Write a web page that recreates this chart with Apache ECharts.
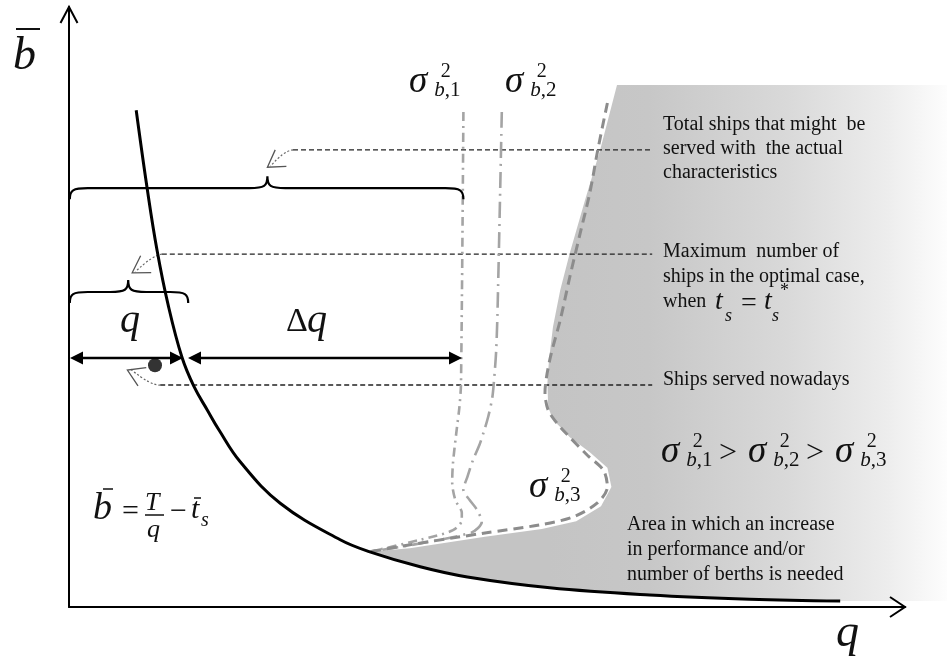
<!DOCTYPE html>
<html>
<head>
<meta charset="utf-8">
<script src="https://cdn.jsdelivr.net/npm/echarts@6/dist/echarts.min.js"></script>
<style>
  html, body { margin: 0; padding: 0; background: #fff; }
  #chart { width: 947px; height: 666px; }
</style>
</head>
<body>
<div id="chart"></div>
<script>
// Demand curve b = T/q - t_s (points along the black curve)
const demandQ = [8.4, 9.8, 11.0, 12.4, 14.1, 15.6, 17.3, 18.75, 21.4, 26.4, 33.9, 37.6, 43.9, 49.8, 60.1, 72.6, 85.1, 96.4];
const demandB = [82.8, 69.5, 59.5, 50.3, 41.7, 36.8, 32.8, 29.5, 24.2, 17.3, 11.2, 9.2, 6.7, 5.0, 3.2, 2.0, 1.3, 1.0];

// Capacity limits for the three service-time variances
const sigma1Q = [49.3, 49.0, 48.8, 48.5, 48.0, 47.9, 48.3, 49.1, 49.1, 48.0, 43.9, 37.6];
const sigma1B = [82.5, 37.3, 33.3, 30.0, 24.0, 20.8, 17.8, 15.7, 14.5, 12.8, 11.2, 9.2];
const sigma2Q = [54.1, 53.6, 53.4, 53.1, 52.9, 52.4, 51.8, 51.3, 50.5, 49.8, 49.3, 50.1, 51.0, 51.6, 50.1, 37.6];
const sigma2B = [82.5, 51.2, 42.8, 37.3, 34.8, 31.7, 29.0, 27.0, 24.5, 21.7, 19.5, 17.8, 16.2, 14.2, 12.3, 9.2];
const sigma3Q = [67.3, 66.1, 65.1, 63.9, 62.6, 61.4, 60.1, 59.5, 59.9, 60.9, 62.1, 64.8, 66.8, 67.3, 66.0, 63.0, 58.9, 51.8, 42.3, 37.6];
const sigma3B = [84.0, 76.2, 69.0, 62.3, 55.0, 47.8, 41.2, 35.7, 32.8, 30.8, 29.0, 25.3, 22.8, 20.0, 17.3, 15.0, 13.7, 12.3, 10.3, 9.2];

// Left edge of the area where more performance / berths are needed
const regionEdgeQ = [37.6, 42.6, 52.0, 59.1, 63.4, 66.5, 67.8, 67.3, 65.1, 62.6, 61.4, 60.5, 59.9, 59.8, 60.0, 60.5, 61.4, 62.6, 64.5, 66.4, 68.5];
const regionEdgeB = [9.2, 9.8, 11.7, 13.0, 14.3, 16.8, 20.0, 23.2, 25.8, 28.3, 30.0, 31.2, 33.3, 37.3, 41.2, 46.7, 52.8, 59.0, 67.8, 76.2, 87.0];
const regionRightQ = 109.75;
const regionTopB = 87.0;
const regionBottomB = 1.0;

// Braces: from, to, middle, level
const braceFrom = [0.1, 0.1];
const braceTo = [49.3, 14.9];
const braceMid = [24.8, 7.4];
const braceLevel = [69.8, 52.5];

// Double arrows q and Δq
const spanFrom = [0.125, 14.875];
const spanTo = [14.25, 49.125];
const spanLevel = 41.5;

// Current operating point
const currentQ = [10.75];
const currentB = [40.3];

// Leader lines from the notes to the braces / point
const leaderStartQ = [28.0, 11.6, 11.4];
const leaderLevel = [76.2, 58.8, 37.0];
const leaderTipQ = [24.8, 7.9, 7.3];
const leaderTipB = [73.3, 55.7, 39.5];
const leaderEndQ = 72.9;

const axisMaxQ = 104.5;
const axisMaxB = 100;

const SERIF = '"Liberation Serif", "Times New Roman", serif';
const zip = (a, b) => a.map((v, i) => [v, b[i]]);

function txt(x, y, s, size, opt) {
  opt = opt || {};
  return {
    type: 'text', x: x, y: y, z: 30,
    style: {
      text: s, fill: opt.fill || '#111',
      font: (opt.italic ? 'italic ' : '') + size + 'px ' + SERIF,
      align: opt.align || 'left', verticalAlign: 'middle'
    }
  };
}
function hbar(x1, x2, y, w) {
  return { type: 'line', z: 30, shape: { x1: x1, y1: y, x2: x2, y2: y }, style: { stroke: '#111', lineWidth: w || 1.5 } };
}
// σ with superscript 2 and subscript b,k
function sigma(x, y, k, S) {
  const sub = Math.round(S * 0.56);
  return [
    txt(x, y, 'σ', S, { italic: true }),
    txt(x + 0.86 * S, y - 0.27 * S, '2', Math.round(S * 0.53)),
    txt(x + 0.68 * S, y + 0.24 * S, 'b', sub, { italic: true }),
    txt(x + 0.68 * S + sub * 0.5, y + 0.24 * S, ',' + k, sub)
  ];
}

const texts = [].concat(
  // axis titles
  [txt(13, 57, 'b', 46, { italic: true }), hbar(16, 40, 29, 2),
   txt(836, 634, 'q', 46, { italic: true })],
  // span labels
  [txt(120, 321, 'q', 40, { italic: true }),
   txt(286, 322, 'Δ', 34), txt(307, 321, 'q', 40, { italic: true })],
  // curve labels
  sigma(409, 82, 1, 37),
  sigma(505, 82, 2, 37),
  sigma(529, 487, 3, 37),
  // inequality
  sigma(661, 452, 1, 37), [txt(719, 454, '>', 32)],
  sigma(748, 452, 2, 37), [txt(806, 454, '>', 32)],
  sigma(835, 452, 3, 37),
  // formula of the demand curve
  [txt(93, 509, 'b', 38, { italic: true }), hbar(103, 113, 489, 1.5),
   txt(122, 512, '=', 30),
   txt(145, 503, 'T', 26, { italic: true }), hbar(145, 164, 515, 1.5),
   txt(147, 530, 'q', 26, { italic: true }),
   txt(170, 512, '−', 30),
   txt(191, 510, 't', 30, { italic: true }), hbar(194, 201, 498, 1.5),
   txt(201, 521, 's', 20, { italic: true })],
  // notes
  [txt(663, 125, 'Total ships that might  be', 20),
   txt(663, 149, 'served with  the actual', 20),
   txt(663, 173, 'characteristics', 20),
   txt(663, 252, 'Maximum  number of', 20),
   txt(663, 277, 'ships in the optimal case,', 20),
   txt(663, 302, 'when', 20),
   txt(715, 302, 't', 28, { italic: true }), txt(725, 316, 's', 18, { italic: true }),
   txt(741, 304, '=', 28),
   txt(764, 302, 't', 28, { italic: true }), txt(772, 316, 's', 18, { italic: true }),
   txt(780, 291, '*', 18),
   txt(663, 380, 'Ships served nowadays', 20),
   txt(627, 525, 'Area in which an increase', 20),
   txt(627, 550, 'in performance and/or', 20),
   txt(627, 575, 'number of berths is needed', 20)]
);

const chart = echarts.init(document.getElementById('chart'), null, { renderer: 'canvas' });

const option = {
  animation: false,
  backgroundColor: '#fff',
  grid: { left: 69, right: 42, top: 7, bottom: 59, outerBoundsMode: 'none' },
  xAxis: {
    type: 'value', min: 0, max: axisMaxQ,
    axisLine: { show: true, onZero: false, lineStyle: { color: '#000', width: 2 } },
    axisTick: { show: false }, axisLabel: { show: false }, splitLine: { show: false }
  },
  yAxis: {
    type: 'value', min: 0, max: axisMaxB,
    axisLine: { show: true, onZero: false, lineStyle: { color: '#000', width: 2 } },
    axisTick: { show: false }, axisLabel: { show: false }, splitLine: { show: false }
  },
  series: [
    {
      name: 'region', type: 'custom', z: 1, clip: false, silent: true,
      data: [[0, 0]],
      renderItem: function (params, api) {
        const pts = zip(regionEdgeQ, regionEdgeB).map(p => api.coord(p));
        pts.push(api.coord([regionRightQ, regionTopB]));
        pts.push(api.coord([regionRightQ, regionBottomB]));
        for (let i = demandQ.length - 1; i >= 0; i--) {
          if (demandQ[i] > regionEdgeQ[0]) pts.push(api.coord([demandQ[i], demandB[i]]));
        }
        const x0 = api.coord([60, 0])[0];
        const x1 = api.coord([regionRightQ, 0])[0];
        const grad = new echarts.graphic.LinearGradient(x0, 0, x1, 0, [
          { offset: 0, color: '#c4c4c4' },
          { offset: 0.25, color: '#c7c7c7' },
          { offset: 0.6, color: '#d9d9d9' },
          { offset: 0.85, color: '#ededed' },
          { offset: 1, color: '#fdfdfd' }
        ], true);
        return { type: 'polygon', shape: { points: pts }, style: { fill: grad } };
      }
    },
    {
      name: 'leaders', type: 'custom', z: 3, clip: false, silent: true,
      data: leaderStartQ.map((q, i) => [q, leaderLevel[i], leaderTipQ[i], leaderTipB[i]]),
      renderItem: function (params, api) {
        const s = api.coord([api.value(0), api.value(1)]);
        const e = api.coord([leaderEndQ, api.value(1)]);
        const t = api.coord([api.value(2), api.value(3)]);
        const ang = Math.atan2(s[1] - t[1], s[0] - t[0]);
        const arm = a => [t[0] + 19 * Math.cos(ang + a), t[1] + 19 * Math.sin(ang + a)];
        return {
          type: 'group', children: [
            { type: 'line', shape: { x1: s[0], y1: s[1], x2: e[0], y2: e[1] }, style: { stroke: '#222', lineWidth: 1.3, lineDash: [5, 3] } },
            { type: 'bezierCurve', shape: { x1: s[0], y1: s[1], cpx1: s[0] - 9, cpy1: s[1] + 1, x2: t[0] + 3, y2: t[1] - 1 },
              style: { stroke: '#666', lineWidth: 1.2, lineDash: [2, 2], fill: null } },
            { type: 'polyline', shape: { points: [arm(0.55), t, arm(-0.55)] }, style: { stroke: '#555', lineWidth: 1.3, fill: null } }
          ]
        };
      }
    },
    {
      name: 'σ²b,1', type: 'line', z: 4, data: zip(sigma1Q, sigma1B), showSymbol: false, smooth: 0.3,
      lineStyle: { color: '#a4a4a4', width: 2.6, type: [9, 5, 2, 5] }, silent: true
    },
    {
      name: 'σ²b,2', type: 'line', z: 4, data: zip(sigma2Q, sigma2B), showSymbol: false, smooth: 0.3,
      lineStyle: { color: '#a4a4a4', width: 2.6, type: [16, 6, 2, 6] }, silent: true
    },
    {
      name: 'σ²b,3', type: 'line', z: 4, data: zip(sigma3Q, sigma3B), showSymbol: false, smooth: 0.3,
      lineStyle: { color: '#8c8c8c', width: 3, type: [10, 6] }, silent: true
    },
    {
      name: 'demand', type: 'line', z: 5, data: zip(demandQ, demandB), showSymbol: false,
      smooth: 0.4,
      lineStyle: { color: '#000', width: 3 }, silent: true
    },
    {
      name: 'braces', type: 'custom', z: 6, clip: false, silent: true,
      data: braceFrom.map((f, i) => [f, braceLevel[i], braceTo[i], braceMid[i]]),
      renderItem: function (params, api) {
        const a = api.coord([api.value(0), api.value(1)]);
        const b = api.coord([api.value(2), api.value(1)]);
        const m = api.coord([api.value(3), api.value(1)]);
        const y = a[1], r = 18, h = 11;
        const d = 'M' + a[0] + ',' + (y + h) +
          ' C' + a[0] + ',' + (y + 2) + ' ' + (a[0] + 3) + ',' + y + ' ' + (a[0] + r) + ',' + y +
          ' L' + (m[0] - r) + ',' + y +
          ' C' + (m[0] - 3) + ',' + y + ' ' + m[0] + ',' + (y - 2) + ' ' + m[0] + ',' + (y - h - 1) +
          ' C' + m[0] + ',' + (y - 2) + ' ' + (m[0] + 3) + ',' + y + ' ' + (m[0] + r) + ',' + y +
          ' L' + (b[0] - r) + ',' + y +
          ' C' + (b[0] - 3) + ',' + y + ' ' + b[0] + ',' + (y + 2) + ' ' + b[0] + ',' + (y + h);
        return { type: 'path', shape: { pathData: d }, style: { stroke: '#000', lineWidth: 2.2, fill: null } };
      }
    },
    {
      name: 'spans', type: 'custom', z: 7, clip: false, silent: true,
      data: spanFrom.map((f, i) => [f, spanLevel, spanTo[i]]),
      renderItem: function (params, api) {
        const a = api.coord([api.value(0), api.value(1)]);
        const b = api.coord([api.value(2), api.value(1)]);
        const y = a[1], L = 13, W = 6.5;
        return {
          type: 'group', children: [
            { type: 'line', shape: { x1: a[0] + L - 1, y1: y, x2: b[0] - L + 1, y2: y }, style: { stroke: '#000', lineWidth: 2.6 } },
            { type: 'polygon', shape: { points: [[a[0], y], [a[0] + L, y - W], [a[0] + L, y + W]] }, style: { fill: '#000' } },
            { type: 'polygon', shape: { points: [[b[0], y], [b[0] - L, y - W], [b[0] - L, y + W]] }, style: { fill: '#000' } }
          ]
        };
      }
    },
    {
      name: 'current', type: 'scatter', z: 8, data: zip(currentQ, currentB),
      symbol: 'circle', symbolSize: 14, itemStyle: { color: '#000' }, silent: true
    }
  ],
  graphic: texts
};

chart.setOption(option);

// open chevrons at the ends of both axes
const xEnd = chart.convertToPixel({ gridIndex: 0 }, [axisMaxQ, 0]);
const yEnd = chart.convertToPixel({ gridIndex: 0 }, [0, axisMaxB]);
const chevrons = [
  { type: 'polyline', z: 30, shape: { points: [[xEnd[0] - 15, xEnd[1] - 10], [xEnd[0], xEnd[1]], [xEnd[0] - 15, xEnd[1] + 10]] },
    style: { stroke: '#000', lineWidth: 2, fill: null } },
  { type: 'polyline', z: 30, shape: { points: [[yEnd[0] - 8.5, yEnd[1] + 16], [yEnd[0], yEnd[1]], [yEnd[0] + 8.5, yEnd[1] + 16]] },
    style: { stroke: '#000', lineWidth: 2, fill: null } }
];
chart.setOption({ graphic: texts.concat(chevrons) });
</script>
</body>
</html>
